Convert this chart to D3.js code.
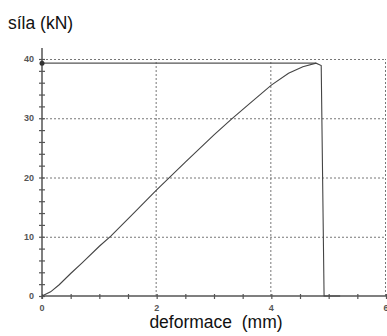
<!DOCTYPE html>
<html>
<head>
<meta charset="utf-8">
<script src="https://cdn.jsdelivr.net/npm/d3@7"></script>
<style>
body{margin:0;background:#fff;}
svg{display:block;font-family:Arial,"Liberation Sans",sans-serif;}
</style>
</head>
<body>
<svg id="chart" width="387" height="336"></svg>
<script>
// deformace (mm) a síla (kN)
var deform=[0,0.15,0.3,0.5,0.7,1.0,1.2,1.6,2,2.5,3,3.3,3.6,4,4.3,4.55,4.78,4.87,4.92,5.2];
var sila=[0,0.7,1.9,3.8,5.6,8.4,10.1,14.0,17.9,22.6,27.2,29.8,32.3,35.6,37.6,38.7,39.3,38.9,0,0];
var xTicks=[0,2,4,6];
var yTicks=[0,10,20,30,40];
var peak=39.3;

var svg=d3.select("#chart");
var x=d3.scaleLinear().domain([0,6]).range([42,386]);
var y=d3.scaleLinear().domain([0,40]).range([296,59]);

var data=deform.map(function(d,i){return {x:d,y:sila[i]};});

// mřížka
var grid=svg.append("g").attr("stroke","#777").attr("stroke-width",1).attr("stroke-dasharray","2,2");
yTicks.slice(1).forEach(function(t){
  grid.append("line").attr("x1",x(0)).attr("x2",x(6)).attr("y1",y(t)+0.5).attr("y2",y(t)+0.5);
});
xTicks.slice(1).forEach(function(t){
  grid.append("line").attr("x1",x(t)-0.5).attr("x2",x(t)-0.5).attr("y1",y(0)).attr("y2",y(40));
});

// osy
var xAxis=d3.axisBottom(x).tickValues(d3.range(0,6.01,0.5)).tickSize(0).tickFormat("");
var yAxis=d3.axisLeft(y).tickValues(d3.range(0,40.01,2)).tickSize(0).tickFormat("");

var gx=svg.append("g").attr("transform","translate(0,"+y(0)+")").call(xAxis);
gx.select(".domain").remove();
gx.append("line").attr("x1",x(0)).attr("x2",x(6)).attr("stroke","#555").attr("stroke-width",1.5);
gx.selectAll(".tick line").attr("y1",-2).attr("y2",3).attr("stroke","#555").attr("stroke-width",1.2);

var gy=svg.append("g").attr("transform","translate("+x(0)+",0)").call(yAxis);
gy.select(".domain").remove();
gy.append("line").attr("y1",y(0)+3).attr("y2",y(40)-11).attr("stroke","#555").attr("stroke-width",1.5);
gy.selectAll(".tick line").attr("x1",-3).attr("x2",3).attr("stroke","#555").attr("stroke-width",1.2);

// popisky
svg.append("g").selectAll("text").data(yTicks).enter().append("text")
  .attr("x",34).attr("y",function(d){return y(d)+3;})
  .attr("text-anchor","end").attr("font-size",9).attr("font-weight","bold").attr("fill","#555")
  .text(function(d){return d;});
svg.append("g").selectAll("text").data(xTicks).enter().append("text")
  .attr("x",function(d){return x(d);}).attr("y",y(0)+15)
  .attr("text-anchor","middle").attr("font-size",9).attr("font-weight","bold").attr("fill","#555")
  .text(function(d){return d;});

svg.append("text").attr("x",8).attr("y",29).attr("font-size",17.5).attr("fill","#111").text("síla (kN)");
svg.append("text").attr("x",216).attr("y",328).attr("text-anchor","middle").attr("font-size",17.5)
  .attr("fill","#111").style("white-space","pre").text("deformace  (mm)");

// maximum
svg.append("line").attr("x1",x(0)).attr("x2",x(4.78)).attr("y1",y(peak)).attr("y2",y(peak))
  .attr("stroke","#555").attr("stroke-width",1.2);
svg.append("circle").attr("cx",x(0)).attr("cy",y(peak)).attr("r",2.5).attr("fill","#333");

// křivka
var line=d3.line().x(function(d){return x(d.x);}).y(function(d){return y(d.y);});
svg.append("path").datum(data).attr("fill","none").attr("stroke","#444").attr("stroke-width",1.1)
  .attr("d",line);
</script>
</body>
</html>
